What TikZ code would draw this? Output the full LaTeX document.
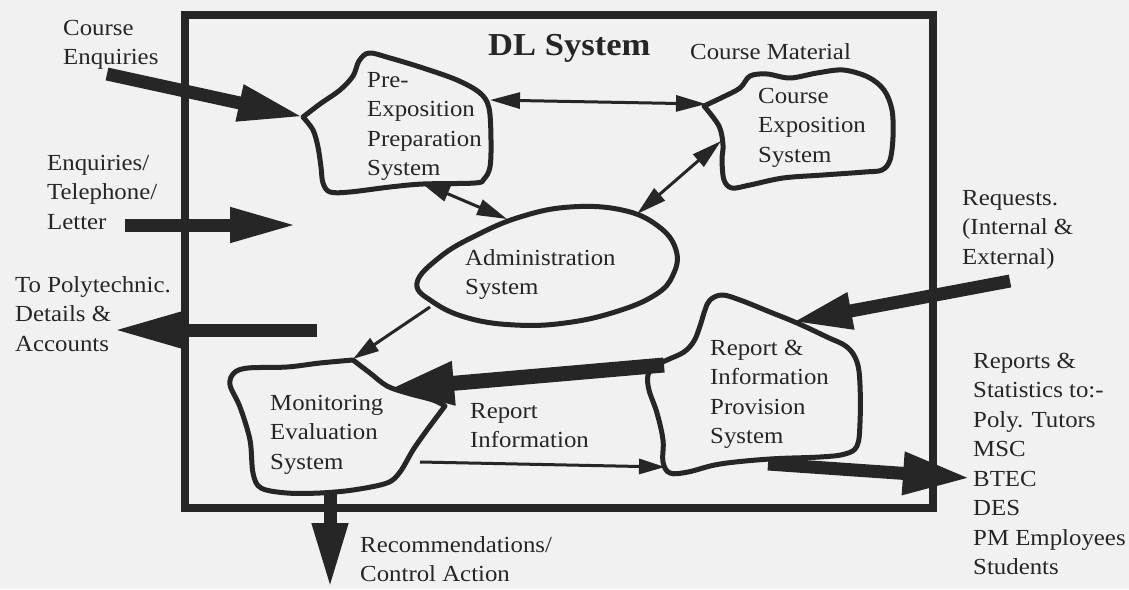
\documentclass[tikz,border=0pt]{standalone}
\usepackage{fontspec}
\setmainfont{Liberation Serif}[FakeStretch=1.08]
\usetikzlibrary{arrows.meta}
\definecolor{ink}{HTML}{262626}
\definecolor{paper}{HTML}{F1F1F1}
% stacked lines, baseline of the box = baseline of the first line
\newcommand{\lines}[1]{\begin{tabular}[t]{@{}l@{}}#1\end{tabular}}

\begin{document}
\begin{tikzpicture}[x=1pt,y=-1pt,
  font=\fontsize{23}{29.5}\selectfont,
  lab/.style={anchor=base west, inner sep=0pt, text=ink},
  frame/.style={draw=ink, line width=7.5pt},
  blob/.style={draw=ink, line width=5pt, line join=round},
  fat/.style 2 args={draw=ink, line width=13pt, -{Triangle[length=#1,width=#2]}},
  thin/.style={draw=ink, line width=3pt, -{Triangle[length=26pt,width=15pt]}},
  both/.style={draw=ink, line width=3pt,
    {Triangle[length=30pt,width=16pt]}-{Triangle[length=30pt,width=16pt]}}]

\fill[paper] (0,0) rectangle (1129,589);
\useasboundingbox (0,0) rectangle (1129,589);

% system boundary
\draw[frame] (185,15) rectangle (933,508);

% Pre-Exposition Preparation System
\draw[blob] plot[smooth, tension=0.55] coordinates {
  (303,117) (320,104) (340,90) (353,76) (359,61) (369,53) (390,58) (423,68)
  (457,80) (480,93) (489,108) (491,140) (490,167) (484,179) (475,183)
  (423,184) (390,187) (350,192) (330,192) (323,183) (321,167) (318,147)
  (313,130) (303,117)} -- cycle;
% Course Exposition System
\draw[blob] plot[smooth, tension=0.55] coordinates {
  (704,106) (723,97) (740,88) (750,76) (767,74) (790,78) (817,73) (843,70)
  (868,77) (884,90) (892,110) (893,137) (890,160) (882,170) (865,172)
  (823,175) (783,178) (750,185) (732,188) (724,180) (722,160) (723,145)
  (719,126) (704,106)} -- cycle;
% Administration System
\draw[blob] plot[smooth cycle, tension=0.7] coordinates {
  (417,283) (440,257) (475,236) (520,217) (570,207) (622,210) (658,226)
  (676,250) (673,275) (655,295) (615,312) (565,323) (515,325) (468,318)
  (433,302)};
% Monitoring Evaluation System
\draw[blob] plot[smooth, tension=0.55] coordinates {
  (353,360) (370,373) (387,386) (407,393) (433,400) (445,406)}
  -- plot[smooth, tension=0.55] coordinates {
  (445,406) (427,430) (413,450) (400,472) (387,483) (353,490) (320,493)
  (287,493) (261,488) (253,473) (250,440) (240,407) (230,385) (234,373)
  (248,368) (287,367) (320,363) (353,360)} -- cycle;
% Report & Information Provision System
\draw[blob] plot[smooth cycle, tension=0.6] coordinates {
  (710,300) (722,295) (740,300) (770,312) (797,323) (827,337) (847,347)
  (857,362) (860,385) (860,423) (857,446) (845,454) (820,457) (770,459)
  (720,464) (688,472) (670,473) (663,462) (663,440) (657,413) (649,390)
  (648,375) (655,366) (667,360) (684,352) (694,341) (700,326) (705,310)};

% points where the flows meet the sub-systems
\coordinate (pre-w)  at (304,117);
\coordinate (pre-ne) at (490,100);
\coordinate (pre-s)  at (420,182);
\coordinate (cex-w)  at (706,104);
\coordinate (cex-sw) at (721,141);
\coordinate (adm-nw) at (507,219);
\coordinate (adm-ne) at (637,214);
\coordinate (adm-sw) at (430,307);
\coordinate (mon-n)  at (353,359);
\coordinate (mon-e)  at (388,389);
\coordinate (mon-se) at (420,462);
\coordinate (mon-s)  at (330,492);
\coordinate (rep-n)  at (792,322);
\coordinate (rep-w)  at (664,365);
\coordinate (rep-sw) at (665,467);
\coordinate (rep-s)  at (768,464);
% loose ends of the external flows
\coordinate (enq-in)  at (107,74);
\coordinate (tel-in)  at (125,225);
\coordinate (tel-out) at (298,225);
\coordinate (poly-from) at (317,330);
\coordinate (poly-to)   at (113,330);
\coordinate (rec-to)  at (330,589);
\coordinate (req-in)  at (1010,281);
\coordinate (stat-to) at (970,478);

% external flows
\draw[fat={66pt}{34pt}] (enq-in) -- (pre-w);
\draw[fat={68pt}{32pt}] (tel-in) -- (tel-out);
\draw[fat={72pt}{35pt}] (poly-from) -- (poly-to);
\draw[fat={66pt}{33pt}] (mon-s) -- (rec-to);
\draw[fat={60pt}{34pt}] (req-in) -- (rep-n);
\draw[fat={67pt}{40pt}] (rep-s) -- (stat-to);
\draw[fat={66pt}{40pt}, line width=15pt] (rep-w) -- (mon-e);

% internal flows
\draw[both] (pre-ne) -- (cex-w);
\draw[both] (pre-s) -- (adm-nw);
\draw[both] (adm-ne) -- (cex-sw);
\draw[thin] (adm-sw) -- (mon-n);
\draw[thin] (mon-se) -- (rep-sw);

% titles and labels
\node[lab, font=\fontsize{32}{36}\selectfont\bfseries] (title) at (488,55) {DL System};
\node[lab] (cmat) at (690,59) {Course Material};
\node[lab] (pre)  at (367,87)  {\lines{Pre-\\Exposition\\Preparation\\System}};
\node[lab] (cex)  at (758,103) {\lines{Course\\Exposition\\System}};
\node[lab] (adm)  at (465,265) {\lines{Administration\\System}};
\node[lab] (mon)  at (270,410) {\lines{Monitoring\\Evaluation\\System}};
\node[lab] (rep)  at (710,355) {\lines{Report \&\\Information\\Provision\\System}};
\node[lab] (rinf) at (470,418) {\lines{Report\\Information}};
\node[lab] (enq)  at (63,35)   {\lines{Course\\Enquiries}};
\node[lab] (tel)  at (47,170)  {\lines{Enquiries/\\Telephone/\\Letter}};
\node[lab] (poly) at (15,292)  {\lines{To Polytechnic.\\Details \&\\Accounts}};
\node[lab] (req)  at (962,205) {\lines{Requests.\\(Internal \&\\External)}};
\node[lab] (stat) at (973,368) {\lines{Reports \&\\Statistics to:-\\Poly. Tutors\\MSC\\BTEC\\DES\\PM Employees\\Students}};
\node[lab] (rec)  at (360,552) {\lines{Recommendations/\\Control Action}};
\end{tikzpicture}
\end{document}
